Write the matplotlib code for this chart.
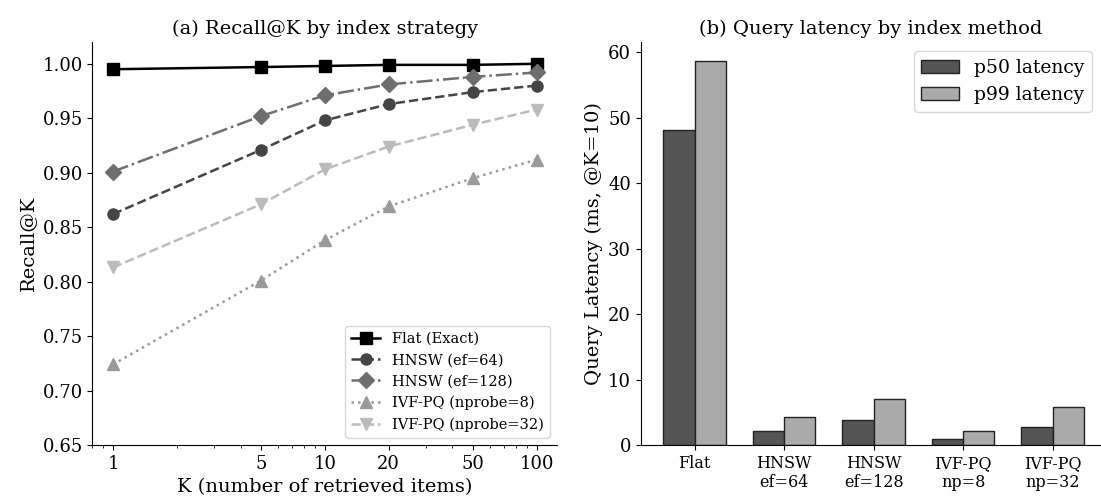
import numpy as np
import matplotlib.pyplot as plt

plt.rcParams['font.family'] = 'DejaVu Serif'

# recall data
k_vals = [1, 5, 10, 20, 50, 100]
flat_recall = [0.995, 0.997, 0.998, 0.999, 0.999, 1.000]
hnsw64_recall = [0.862, 0.921, 0.948, 0.963, 0.974, 0.980]
hnsw128_recall = [0.901, 0.952, 0.971, 0.981, 0.988, 0.992]
ivf8_recall = [0.724, 0.801, 0.838, 0.869, 0.895, 0.912]
ivf32_recall = [0.813, 0.871, 0.903, 0.924, 0.944, 0.958]

# latency data
methods = ['Flat', 'HNSW\nef=64', 'HNSW\nef=128', 'IVF-PQ\nnp=8', 'IVF-PQ\nnp=32']
p50 = [48.2, 2.1, 3.8, 0.9, 2.7]
p99 = [58.7, 4.3, 7.1, 2.1, 5.8]

fig = plt.figure(figsize=(11.01, 5.0), dpi=100)
ax1 = fig.add_axes([0.084, 0.110, 0.422, 0.806])
ax2 = fig.add_axes([0.582, 0.110, 0.418, 0.806])

# (a) recall
ax1.plot(k_vals, flat_recall, color='black', ls='-', marker='s', ms=8, lw=1.8, label='Flat (Exact)')
ax1.plot(k_vals, hnsw64_recall, color='#444444', ls='--', marker='o', ms=8, lw=1.8, label='HNSW (ef=64)')
ax1.plot(k_vals, hnsw128_recall, color='#6e6e6e', ls='-.', marker='D', ms=8, lw=1.8, label='HNSW (ef=128)')
ax1.plot(k_vals, ivf8_recall, color='#9a9a9a', ls=':', marker='^', ms=8, lw=1.8, label='IVF-PQ (nprobe=8)')
ax1.plot(k_vals, ivf32_recall, color='#bbbbbb', ls='--', marker='v', ms=8, lw=1.8, label='IVF-PQ (nprobe=32)')
ax1.set_xscale('log')
ax1.set_xticks(k_vals)
ax1.set_xticklabels([str(k) for k in k_vals])
ax1.set_xlim(0.8, 125)
ax1.set_ylim(0.65, 1.02)
yt = np.arange(0.65, 1.001, 0.05)
ax1.set_yticks(yt)
ax1.set_yticklabels(['%.2f' % v for v in yt])
ax1.tick_params(labelsize=13)
ax1.set_xlabel('K (number of retrieved items)', fontsize=14)
ax1.set_ylabel('Recall@K', fontsize=14)
ax1.set_title('(a) Recall@K by index strategy', fontsize=14)
ax1.spines['top'].set_visible(False)
ax1.spines['right'].set_visible(False)
ax1.legend(loc='lower right', fontsize=10.5)

# (b) latency
x = np.arange(len(methods))
w = 0.35
ax2.bar(x - w / 2, p50, w, color='#555555', edgecolor='#222222', label='p50 latency')
ax2.bar(x + w / 2, p99, w, color='#aaaaaa', edgecolor='#222222', label='p99 latency')
ax2.set_xticks(x)
ax2.set_xticklabels(methods, fontsize=11.5)
ax2.set_xlim(-0.6, 4.54)
ax2.set_ylim(0, 61.6)
ax2.tick_params(axis='y', labelsize=13)
ax2.set_ylabel('Query Latency (ms, @K=10)', fontsize=14)
ax2.set_title('(b) Query latency by index method', fontsize=14)
ax2.spines['top'].set_visible(False)
ax2.spines['right'].set_visible(False)
ax2.legend(loc='upper right', fontsize=13.5)

fig.savefig('out.png', dpi=100)
